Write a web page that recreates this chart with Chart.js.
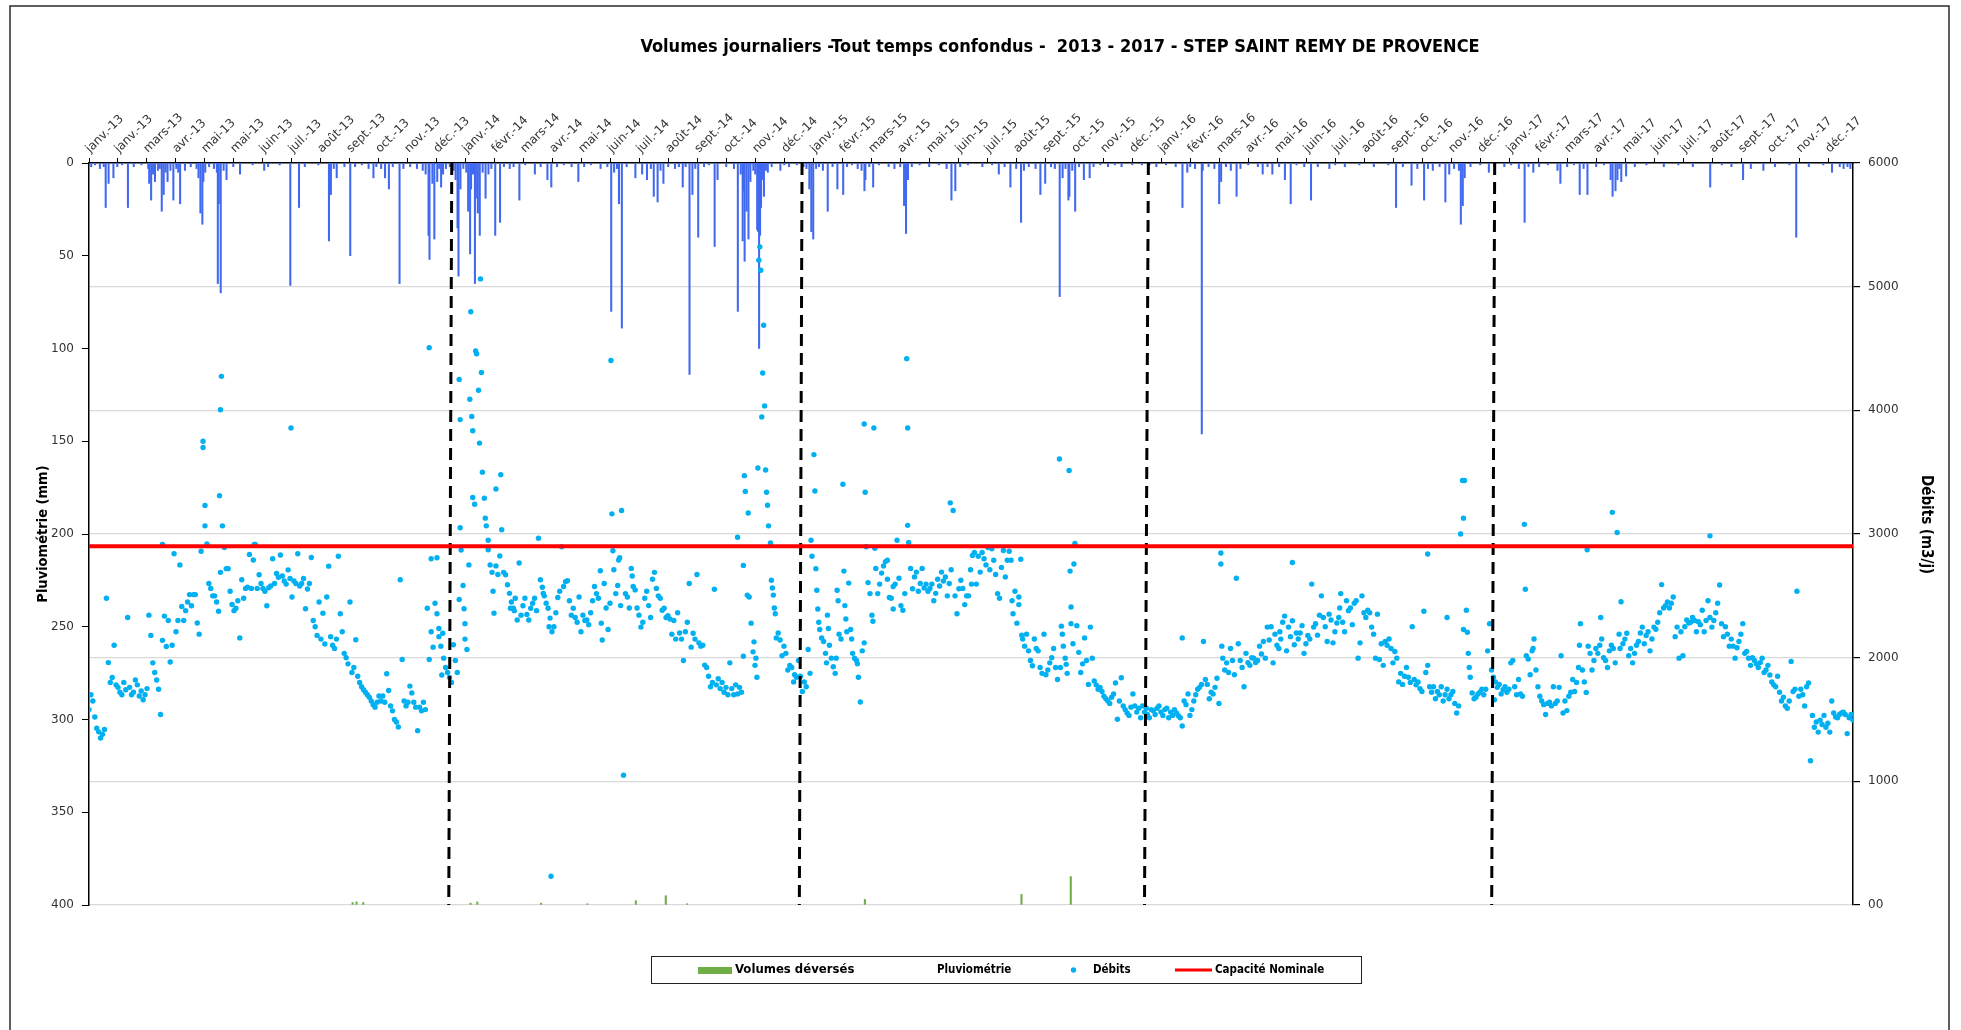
<!DOCTYPE html>
<html><head><meta charset="utf-8">
<script src="https://cdn.jsdelivr.net/npm/chart.js@4.4.1/dist/chart.umd.min.js"></script>
<style>html,body{margin:0;padding:0;background:#fff;overflow:hidden}canvas{display:block}</style>
</head><body>
<canvas id="c" width="1961" height="1030" style="width:1961px;height:1030px"></canvas>
<script>
// ---------- DATA ----------
const chartTitle = "Volumes journaliers -Tout temps confondus -  2013 - 2017 - STEP SAINT REMY DE PROVENCE";
// top axis tick labels (one every 30 days starting 01/01/2013)
const tickLabels = ["janv.-13","janv.-13","mars-13","avr.-13","mai-13","mai-13","juin-13","juil.-13","août-13","sept.-13","oct.-13","nov.-13","déc.-13",
"janv.-14","févr.-14","mars-14","avr.-14","mai-14","juin-14","juil.-14","août-14","sept.-14","oct.-14","nov.-14","déc.-14",
"janv.-15","févr.-15","mars-15","avr.-15","mai-15","juin-15","juil.-15","août-15","sept.-15","oct.-15","nov.-15","déc.-15",
"janv.-16","févr.-16","mars-16","avr.-16","mai-16","juin-16","juil.-16","août-16","sept.-16","oct.-16","nov.-16","déc.-16",
"janv.-17","févr.-17","mars-17","avr.-17","mai-17","juin-17","juil.-17","août-17","sept.-17","oct.-17","nov.-17","déc.-17"];
const tickStepDays = 30;
const lastDay = 1825;             // 31/12/2017, day 0 = 01/01/2013
const yearStartDay = [0, 365, 730, 1095, 1461];
const sampleStepDays = 2;

// Débits (m3/j), one reading every 2 days per year
const flow2013 = [1580,1700,1650,1520,1430,1400,1350,1380,1420,2480,
1960,1800,1840,2100,1780,1760,1720,1700,1800,1740,
2325,1760,1700,1720,1820,1780,1690,1730,1660,1700,
1750,2344,2180,1958,1880,1820,1745,1540,2140,2336,
2090,2300,1965,2100,2840,2210,2300,2750,2414,2300,
2380,2450,2510,2420,2510,2510,2280,2190,2860,3750,
3230,2920,2600,2560,2500,2500,2450,2375,4005,3066,
2890,2720,2720,2537,2430,2380,2400,2460,2160,2630,
2480,2560,2570,2835,2560,2790,2915,2560,2670,2600,
2560,2537,2420,2565,2580,2800,2600,2680,2650,2830,
2660,2620,2595,2710,2640,2490,2620,2600,2840,2580,
2600,2640,2395,2555,2600,2810,2300,2250,2180,2450,
2150,2360,2110,2490,2740,2170,2100,2075,2150,2820,
2355,2210,2035,2000,1950,2450,1880,1920,2145,1850,
1800,1765,1740,1720,1700,1680,1650,1620,1600,1640,
1690,1650,1690,1640,1870,1735,1610,1570,1500,1480,
1440,2630,1985,1650,1610,1640,1770,1715,1640,1600,
1410,1600,1570,1640,1580,2400,1985,2800,2085,2440,2808,2236,2093];
const flow2014 = [1860,1996,1920,1880,1840,1800,2105,1977,1880,2470,
2870,2583,2150,2066,2750,4797,3835,3240,4457,4163,
5063,3500,3290,3066,2873,2750,2690,2360,2742,2672,
2823,3035,2690,2670,2590,2520,2450,2400,2480,2305,
2765,2344,2420,2480,2350,2305,2400,2440,2480,2380,
2966,2630,2570,2500,2440,2400,2320,2210,2250,2363,
2487,2537,2897,2576,2615,2622,2460,2344,2400,2325,
2286,2490,2210,2344,2300,2305,2267,2363,2460,2576,
2518,2480,2703,2143,2600,2402,2228,2440,3163,2711,
2518,2583,2808,3190,1050,2518,2490,2402,2722,2576,
2548,2402,2344,2247,2286,2480,2537,2421,2325,2634,
2690,2560,2500,2480,2383,2400,2325,2340,2313,2190,
2300,2150,2363,2200,2150,1977,2210,2286,2600,2085,
2197,2150,2672,2120,2093,2100,1940,1920,1850,1765,
1800,2553,1780,1830,1750,1800,1720,1760,1700,1958,
1750,1700,1780,1707,1760,1720,2746,3344,2506,2490,
2279,2047,1938,1842,5214,5133,4302,4036,3337,3066,
2928,2564,2402,2160,2200,2143,2016,2093,2035,1900,
1938,1920,1804];
const flow2015 = [1862,1842,1977,1850,1726,1804,1765,2066,1873,2820,
3642,2720,2394,2228,2160,2131,2035,2344,2100,1996,
1927,1873,2545,2190,2151,3402,2421,2210,2603,2228,
2035,1996,1977,1842,1641,2055,3889,2897,2607,2518,
2344,3858,2722,2518,2595,2684,2742,2777,2634,2487,
2480,2394,2595,2950,2642,2421,2383,2518,4418,2931,
2722,2557,2653,2692,2537,2600,2722,2564,2595,2537,
2560,2595,2460,2520,2634,2580,2692,2620,2653,2500,
2600,2711,3190,2500,2355,2557,2626,2560,2429,2500,
2500,2711,2827,2850,2595,2820,2692,2850,2800,2750,
2890,2711,2880,2788,2672,2518,2480,2730,2866,2653,
2788,2860,2788,2355,2537,2279,2490,2796,2151,2093,
2190,2055,1977,1935,2151,2074,2055,1920,1873,2190,
1862,1900,1958,2000,2074,1920,1823,3607,2255,2093,
1996,1873,3514,2410,2113,2924,2259,2043,1880,1950,
2160,1977,1784,2247,1996,1811,1780,1745,1760,1726,
1688,1668,1650,1630,1680,1707,1796,1502,1649,1838,
1610,1580,1553,1533,1600,1707,1610,1560,1591,1514,
1610,1560,1591];
const flow2016 = [1540,1514,1580,1572,1540,1591,1610,1560,1533,1580,
1591,1514,1560,1533,1580,1553,1530,1514,1448,1649,
1620,1707,1533,1580,1649,1700,1745,1760,1784,2131,
1823,1784,1668,1720,1707,1760,1834,1630,2846,1996,
1900,1958,1880,2074,1977,1862,2642,2113,1977,1920,
1765,2035,1960,1938,2000,1996,1960,1977,2093,2030,
2131,1996,2247,2143,2250,1958,2190,2100,2074,2150,
2286,2336,2055,2247,2170,2769,2105,2200,2151,2200,
2259,2035,2113,2180,2151,2595,2247,2275,2182,2344,
2500,2325,2250,2131,2352,2305,2120,2210,2280,2325,
2518,2286,2210,2460,2380,2402,2267,2440,2460,1996,
2120,2500,2363,2325,2383,2363,2247,2190,1996,2352,
1985,2113,1938,2131,2100,2151,2074,1958,2050,1996,
1804,1873,1784,1850,1920,1842,1800,2251,1823,1780,
1804,1750,1726,2375,1880,2838,1765,1720,1765,1668,
1726,1700,1765,1649,1700,2325,1668,1700,1726,1630,
1553,1610,3000,3433,3433,2383,2035,1842,1715,1668,
1680,1707,1720,1745,1700,1745,2055,2275,1900,1842,
1804,1760,1784];
const flow2017 = [1707,1740,1765,1720,1745,1958,1977,1765,1700,1823,
1707,1688,3078,2016,1989,1862,2055,2151,1900,1765,
1688,1649,1620,1541,1630,1640,1610,1765,1630,1650,
1760,2016,1553,1650,1572,1688,1720,1823,1726,1800,
1920,2275,1900,1804,1719,2093,2035,1900,1977,2074,
2035,2100,2151,2000,1977,1920,2055,2100,2074,1958,
3012,2190,2452,2113,2150,2197,2016,2074,1958,2035,
2100,2131,2200,2247,2113,2180,2210,2055,2151,2247,
2230,2286,2363,2591,2402,2421,2450,2402,2440,2490,
2170,2247,1996,2210,2016,2250,2305,2280,2286,2325,
2300,2210,2290,2267,2383,2210,2300,2460,2985,2247,
2300,2363,2440,2588,2275,2170,2250,2190,2093,2150,
2093,1996,2080,2131,2190,2275,2035,2050,1996,1938,
2000,1977,1950,1920,1960,1996,1880,1900,1938,1860,
1804,1780,1765,1850,1720,1649,1680,1610,1591,1650,
1970,1726,1745,2537,1688,1745,1700,1610,1765,1796,
1166,1533,1437,1480,1398,1495,1460,1533,1437,1470,
1398,1649,1553,1520,1514,1540,1553,1560,1541,1386,
1514,1540,1495];
// additional daily readings (peaks and scattered days)
const flowExtraDays = [76,118,120,135,136,137,171,209,352,354,360,362,
366,383,384,384,388,389,394,396,397,400,404,406,410,413,418,421,426,436,440,470,476,478,530,540,542,548,550,562,671,677,678,682,688,690,692,694,696,698,700,702,706,708,710,
747,751,753,755,763,765,773,775,781,783,789,795,802,803,811,813,826,832,847,847,891,913,955,962,965,1005,1007,1011,1015,1016,1019,
1131,1171,1172,1232,1245,1294,1385,1405,1422,1422,1426,1428,1454,
1486,1494,1542,1550,1564,1576,1584,1677];
const flowExtraVals = [2915,3700,3066,3310,2690,4275,2915,3858,4507,2210,2355,2170,
2197,4250,3925,3050,2395,2275,4090,3950,3295,4480,3735,4306,3128,2950,2537,3364,3480,2400,2380,2520,2250,232,2279,4403,2865,2790,2421,2660,2974,2012,3472,3170,2128,1996,3534,5322,3947,4688,3518,3232,2626,2506,2355,
2950,3348,2545,2286,1958,2236,1996,2460,2700,2313,2151,1950,2120,3337,2294,2885,2788,2576,3858,3070,3252,2595,2460,2429,2182,1920,2190,1946,2700,2275,2757,
2160,2757,2093,2210,2298,2402,1938,1745,2228,3128,2205,1920,1660,
2553,2074,2100,2873,2325,3175,2074,2325];

// Pluviométrie (mm): day index and rainfall
const rainDays = [3,7,12,16,18,21,26,30,35,41,47,55,62,63,65,67,69,72,74,76,78,80,82,85,88,91,93,95,100,106,112,114,116,118,119,121,125,130,133,134,135,137,140,143,150,157,170,182,186,198,209,218,224,238,249,251,254,257,265,271,276,283,290,295,298,303,307,311,315,322,326,333,340,346,349,352,353,356,358,361,363,
365,367,370,374,378,380,382,383,385,388,391,393,395,396,398,400,401,403,405,408,411,414,417,421,426,430,436,440,446,452,462,468,475,479,485,492,500,507,513,520,530,537,541,544,547,549,552,557,566,573,578,582,585,589,592,595,600,607,611,615,618,622,625,628,631,637,642,648,651,660,668,672,675,677,678,679,681,683,685,688,690,692,693,694,695,696,697,699,701,703,707,716,720,725,
733,740,743,746,748,750,753,756,760,765,770,775,781,785,790,796,800,803,804,808,812,818,828,834,840,844,846,848,852,860,870,880,888,893,897,902,910,925,935,942,948,954,960,965,968,973,980,985,990,996,1000,1005,1008,1011,1014,1015,1018,1021,1025,1030,1036,1040,1047,1055,1062,1069,1080,1090,
1098,1105,1115,1125,1132,1137,1140,1145,1152,1153,1159,1165,1170,1172,1177,1182,1188,1192,1200,1210,1215,1220,1225,1232,1238,1244,1250,1258,1265,1272,1284,1290,1300,1315,1330,1345,1353,1360,1369,1375,1382,1386,1391,1398,1404,1408,1413,1418,1420,1422,1424,1430,1440,1449,1455,
1465,1472,1480,1486,1490,1495,1501,1510,1520,1523,1530,1537,1543,1547,1551,1560,1568,1575,1577,1580,1582,1584,1586,1591,1600,1612,1630,1645,1660,1678,1690,1700,1712,1720,1733,1745,1760,1767,1780,1795,1804,1812,1816,1820,1823];
const rainMm = [2,1,3,2,24,11,8,2,1,24,2,1,3,11,20,6,10,4,3,26,17,5,10,4,20,3,5,22,4,2,3,8,27,33,10,5,2,3,5,65,22,70,4,9,2,6,1,4,2,1,66,24,2,1,42,17,3,8,2,50,2,1,3,8,2,3,8,14,2,65,3,2,3,4,6,39,52,11,41,10,3,
13,6,3,2,4,9,35,61,14,3,5,26,49,14,6,65,19,27,39,5,19,6,3,39,32,2,3,2,20,1,6,2,9,13,2,1,2,10,2,1,3,2,80,5,3,22,89,2,8,6,9,3,18,21,4,11,2,3,2,13,2,114,17,3,40,2,1,45,9,2,3,80,6,42,15,53,26,41,10,4,6,36,37,100,39,24,9,18,4,5,2,4,1,2,
1,2,3,14,37,41,3,2,4,26,2,14,17,2,1,3,4,15,9,2,13,1,2,3,2,23,38,9,2,1,2,1,3,20,15,2,1,2,1,6,2,13,3,32,4,2,3,17,11,2,3,72,8,3,20,18,4,26,2,9,8,2,1,2,1,2,1,1,
1,2,1,2,24,5,2,3,146,4,2,3,22,10,2,4,18,3,1,2,6,2,6,2,9,22,1,2,20,2,3,1,2,1,2,1,24,2,12,3,20,3,4,2,21,6,3,4,33,23,8,2,1,5,2,
2,1,3,32,2,5,2,1,4,11,2,1,17,3,17,2,1,9,18,15,9,3,10,7,2,1,2,1,2,13,1,2,9,3,4,2,1,40,2,1,5,2,3,2,3];

// Volumes déversés (m3/j)
const deversDays = [272,276,283,394,401,467,515,565,596,618,802,964,1015];
const deversVals = [20,25,20,15,25,15,10,35,75,10,45,85,230];

// Capacité nominale (m3/j)
const capaciteNominale = 2900;

// year separators (dashed lines): day at top and at bottom of plot
const separatorTopDays = [375.3, 737.7, 1096, 1454.3];
const separatorBottomDays = [372.2, 734.9, 1092, 1451.2];

// ---------- BUILD ----------
const flowYears = [flow2013, flow2014, flow2015, flow2016, flow2017];
const flowPoints = [];
flowYears.forEach((arr, y) => arr.forEach((v, i) => flowPoints.push({x: yearStartDay[y] + sampleStepDays * i, y: v})));
flowExtraDays.forEach((d, i) => flowPoints.push({x: d, y: flowExtraVals[i]}));
const rainPoints = rainDays.map((d, i) => ({x: d, y: rainMm[i]}));
const deversPoints = deversDays.map((d, i) => ({x: d, y: deversVals[i]}));

const NARROW = "'Liberation Sans Narrow', 'DejaVu Sans Condensed', 'Arial Narrow', sans-serif";
Chart.defaults.font.family = "'DejaVu Sans', Verdana, sans-serif";

const separatorSets = separatorTopDays.map((t, i) => ({
  type: 'line', label: 'sep' + i, xAxisID: 'x', yAxisID: 'yFlow',
  data: [{x: t, y: 6000}, {x: separatorBottomDays[i], y: 0}],
  borderColor: '#000', borderWidth: 3, borderDash: [12, 7], pointRadius: 0, order: 1
}));

const decor = {
  id: 'decor',
  beforeDraw(chart) {
    const c = chart.ctx;
    c.save();
    c.fillStyle = '#fff'; c.fillRect(0, 0, chart.width, chart.height);
    c.strokeStyle = '#2b2b2b'; c.lineWidth = 1.5;
    c.beginPath(); c.moveTo(10, 1032); c.lineTo(10, 6); c.lineTo(1949, 6); c.lineTo(1949, 1032); c.stroke();
    c.restore();
  },
  afterDraw(chart) {
    const c = chart.ctx;
    c.save();
    c.fillStyle = '#000';
    c.font = 'bold 18px ' + NARROW;
    c.textAlign = 'center'; c.textBaseline = 'middle';
    c.fillText(chartTitle, 1060, 47);
    // legend
    c.strokeStyle = '#222'; c.lineWidth = 1;
    c.strokeRect(651.5, 956.5, 710, 27);
    c.fillStyle = '#70AD47'; c.fillRect(698, 967, 34, 7);
    c.fillStyle = '#000'; c.textAlign = 'left';
    c.font = 'bold 13px ' + NARROW; c.fillText('Volumes déversés', 735, 970);
    c.font = 'bold 11.5px ' + NARROW; c.fillText('Pluviométrie', 937, 970);
    c.fillStyle = '#00B0F0'; c.beginPath(); c.arc(1073.5, 970, 2.7, 0, Math.PI * 2); c.fill();
    c.fillStyle = '#000'; c.fillText('Débits', 1093, 970);
    c.strokeStyle = '#FF0000'; c.lineWidth = 3; c.beginPath(); c.moveTo(1175, 970); c.lineTo(1212, 970); c.stroke();
    c.fillStyle = '#000'; c.fillText('Capacité Nominale', 1215, 970);
    c.restore();
  }
};

new Chart(document.getElementById('c'), {
  type: 'bar',
  data: {
    datasets: [
      {type: 'line', label: 'Capacité Nominale', xAxisID: 'x', yAxisID: 'yFlow',
       data: [{x: 0, y: capaciteNominale}, {x: lastDay, y: capaciteNominale}],
       borderColor: '#FF0000', borderWidth: 4, pointRadius: 0, order: 0},
      ...separatorSets,
      {type: 'scatter', label: 'Débits', xAxisID: 'x', yAxisID: 'yFlow', data: flowPoints,
       backgroundColor: '#00B0F0', pointRadius: 2.7, pointBorderWidth: 0, borderWidth: 0, showLine: false, order: 2},
      {type: 'bar', label: 'Pluviométrie', xAxisID: 'x', yAxisID: 'yRain', data: rainPoints,
       backgroundColor: '#4169F0', barThickness: 1.4, order: 3},
      {type: 'bar', label: 'Volumes déversés', xAxisID: 'x', yAxisID: 'yFlow', data: deversPoints,
       backgroundColor: '#70AD47', barThickness: 1.4, order: 4}
    ]
  },
  options: {
    responsive: false, animation: false, maintainAspectRatio: false,
    layout: {padding: {left: 31, right: 22, top: 0, bottom: 125}},
    plugins: {legend: {display: false}, tooltip: {enabled: false}, title: {display: false}},
    scales: {
      x: {
        type: 'linear', position: 'top', min: 0, max: lastDay, offset: false,
        afterBuildTicks: (s) => { s.ticks = tickLabels.map((_, k) => ({value: k * tickStepDays})); },
        ticks: {autoSkip: false, minRotation: 45, maxRotation: 45, padding: 2, labelOffset: 9, color: '#333',
                font: {size: 12}, callback: (v, i) => tickLabels[i]},
        grid: {drawOnChartArea: false, drawTicks: true, tickLength: 5, color: '#000', offset: false},
        border: {color: '#000', width: 1.5},
        afterFit: (s) => { s.height = 163; }
      },
      yRain: {
        type: 'linear', position: 'left', reverse: true, min: 0, max: 400,
        ticks: {stepSize: 50, padding: 8, color: '#333', font: {size: 12}},
        grid: {drawOnChartArea: false, drawTicks: true, tickLength: 7, color: '#000'},
        border: {color: '#000', width: 1.5},
        title: {display: true, text: 'Pluviométrie (mm)', color: '#000', font: {family: NARROW, size: 14.5, weight: 'bold'}, padding: {top: 4, bottom: 4}},
        afterFit: (s) => { s.width = 58; }
      },
      yFlow: {
        type: 'linear', position: 'right', min: 0, max: 6000,
        ticks: {stepSize: 1000, padding: 8, color: '#333', font: {size: 12}, callback: (v) => v === 0 ? '00' : String(v)},
        grid: {drawOnChartArea: true, drawTicks: true, tickLength: 7, color: '#d9d9d9', tickColor: '#000', lineWidth: 1.2},
        border: {color: '#000', width: 1.5},
        title: {display: true, text: 'Débits (m3/j)\u00a0\u00a0\u00a0\u00a0', color: '#000', font: {family: NARROW, size: 15, weight: 'bold'}, padding: {top: 4, bottom: 4}},
        afterFit: (s) => { s.width = 86; }
      }
    }
  },
  plugins: [decor]
});
</script></body></html>
